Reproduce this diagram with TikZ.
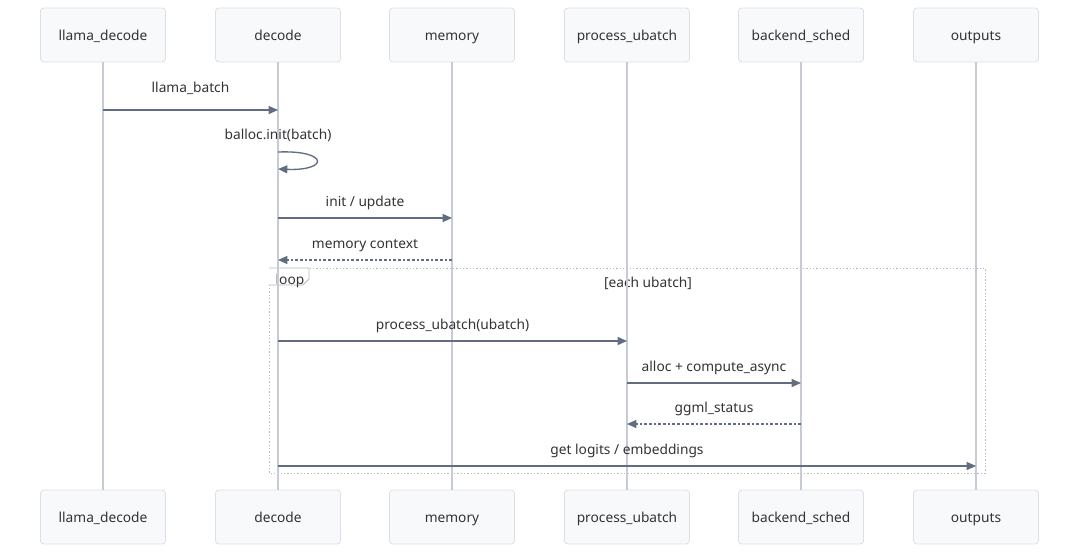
\documentclass[tikz,border=0pt]{standalone}
\usepackage{fontspec}
\setmainfont{Noto Sans}
\usetikzlibrary{arrows.meta}
\definecolor{boxfill}{HTML}{F8F9FB}
\definecolor{boxline}{HTML}{DCE0E6}
\definecolor{lifecol}{HTML}{C6CBD6}
\definecolor{msgcol}{HTML}{626D82}
\definecolor{txtcol}{HTML}{333333}
\definecolor{loopcol}{HTML}{B4B9C4}
\tikzset{
  actor/.style={draw=boxline,fill=boxfill,rounded corners=2.5pt,line width=0.6pt,
    minimum width=93.75pt,minimum height=40.5pt},
  life/.style={draw=lifecol,line width=0.9pt},
  msg/.style={draw=msgcol,line width=1pt,-{Triangle[length=7pt,width=6pt]}},
  reply/.style={msg,dash pattern=on 2pt off 1.5pt},
  lbl/.style={midway,yshift=12.75pt},
}
\begin{document}
\begin{tikzpicture}[x=0.75pt,y=-0.75pt,every node/.style={font=\fontsize{10.3}{12}\selectfont,
    text=txtcol,text height=8.6pt,text depth=1pt}]
  \useasboundingbox[fill=white] (0,0) rectangle (1080,554);
  % loop frame
  \draw[loopcol,line width=0.7pt,dash pattern=on 1pt off 1.5pt] (269,268) rectangle (985,473);
  \draw[loopcol,line width=0.6pt,fill=white] (269,268) -- (309,268) -- (309,279) -- (303,285) -- (269,285);
  \node (looptag) at (290,279) {loop};
  \node (loopcond) at (648,282) {[each ubatch]};
  % participants and lifelines
  \foreach \n/\x/\t in {ld/103/llama\_decode, dc/278/decode, mem/452/memory,
      pu/627/process\_ubatch, bs/801/backend\_sched, out/976/outputs}{
    \node[actor] (\n) at (\x,35) {\t};
    \node[actor] (\n b) at (\x,517) {\t};
    \draw[life] (\n) -- (\n b);
  }
  % messages
  \draw[msg] (ld |- 0,110) -- (dc |- 0,110) node[lbl,yshift=4.5pt] {llama\_batch};
  \coordinate (s1) at (dc |- 0,152);
  \coordinate (s2) at (dc |- 0,169);
  \node (selflbl) at (dc |- 0,134) {balloc.init(batch)};
  \draw[msg] (s1) .. controls +(51,-2) and +(51,2) .. (s2);
  \draw[msg] (dc |- 0,218) -- (mem |- 0,218) node[lbl] {init / update};
  \draw[reply] (mem |- 0,260) -- (dc |- 0,260) node[lbl] {memory context};
  \draw[msg] (dc |- 0,341) -- (pu |- 0,341) node[lbl] {process\_ubatch(ubatch)};
  \draw[msg] (pu |- 0,383) -- (bs |- 0,383) node[lbl] {alloc + compute\_async};
  \draw[reply] (bs |- 0,424) -- (pu |- 0,424) node[lbl] {ggml\_status};
  \draw[msg] (dc |- 0,466) -- (out |- 0,466) node[lbl] {get logits / embeddings};
\end{tikzpicture}
\end{document}
